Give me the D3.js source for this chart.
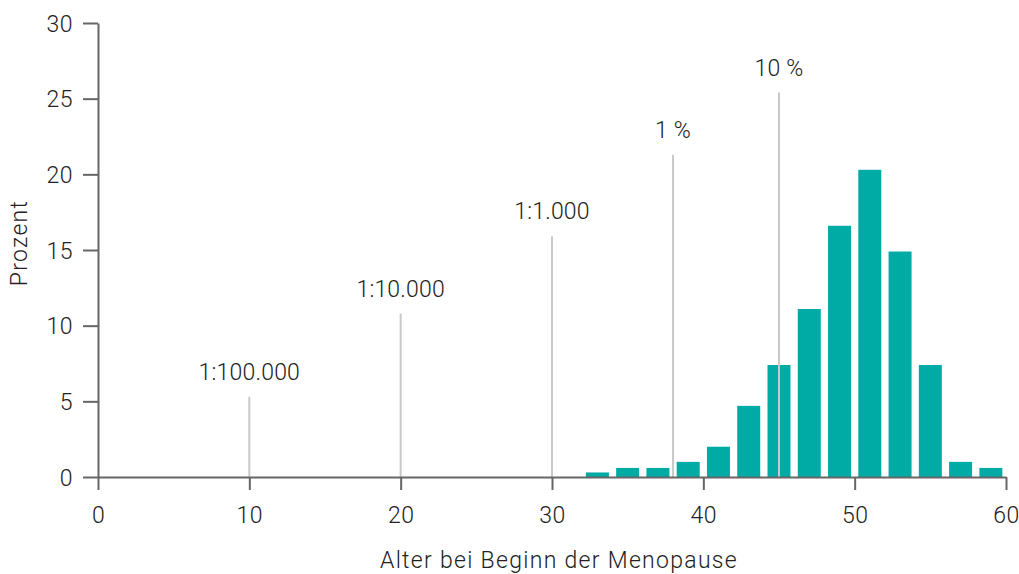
<!DOCTYPE html>
<html>
<head>
<meta charset="utf-8">
<script src="https://cdn.jsdelivr.net/npm/d3@7"></script>
<style>
  body { margin: 0; background: #fff; }
  text { font-family: Roboto, "Noto Sans", sans-serif; fill: #222; }
</style>
</head>
<body>
<div class="chart"></div>
<script>
// age (bar centre) and share of women in percent
const ages = [33, 35, 37, 39, 41, 43, 45, 47, 49, 51, 53, 55, 57, 59];
const percent = [0.3, 0.6, 0.6, 1.0, 2.0, 4.7, 7.4, 11.1, 16.6, 20.3, 14.9, 7.4, 1.0, 0.6];

// risk markers
const markerAges = [10, 20, 30, 38, 45];
const markerHeights = [5.3, 10.8, 15.9, 21.3, 25.4];
const markerLabels = ["1:100.000", "1:10.000", "1:1.000", "1 %", "10 %"];

const xTicks = [0, 10, 20, 30, 40, 50, 60];
const yTicks = [0, 5, 10, 15, 20, 25, 30];

const W = 1019, H = 574;
const margin = { top: 23, right: 13, bottom: 97, left: 98 };
const width = W - margin.left - margin.right;
const height = H - margin.top - margin.bottom;

const svg = d3.select(".chart").append("svg")
  .attr("width", W)
  .attr("height", H);

const g = svg.append("g")
  .attr("transform", `translate(${margin.left},${margin.top})`);

const x = d3.scaleLinear().domain([0, 60]).range([0, width]);
const y = d3.scaleLinear().domain([0, 30]).range([height, 0]);

const barW = x(1.52) - x(0);

g.selectAll(".bar")
  .data(ages)
  .join("rect")
  .attr("class", "bar")
  .attr("x", d => x(d) - barW / 2)
  .attr("width", barW)
  .attr("y", (d, i) => y(percent[i]))
  .attr("height", (d, i) => y(0) - y(percent[i]))
  .attr("fill", "#00aba6");

// marker lines
g.selectAll(".marker")
  .data(markerAges)
  .join("line")
  .attr("class", "marker")
  .attr("x1", d => x(d))
  .attr("x2", d => x(d))
  .attr("y1", y(0))
  .attr("y2", (d, i) => y(markerHeights[i]))
  .attr("stroke", "#c8c8c8")
  .attr("stroke-width", 2);

g.selectAll(".marker-label")
  .data(markerAges)
  .join("text")
  .attr("class", "marker-label")
  .attr("x", d => x(d))
  .attr("y", (d, i) => y(markerHeights[i]) - 17)
  .attr("text-anchor", "middle")
  .style("font-size", "23px")
  .style("font-weight", 300)
  .style("letter-spacing", "0.2px")
  .text((d, i) => markerLabels[i]);

// axes
const xAxis = g.append("g")
  .attr("transform", `translate(0,${height})`)
  .call(d3.axisBottom(x).tickValues(xTicks).tickSize(13).tickSizeOuter(0).tickPadding(17));

const yAxis = g.append("g")
  .call(d3.axisLeft(y).tickValues(yTicks).tickSize(15).tickSizeOuter(0).tickPadding(10));

[xAxis, yAxis].forEach(a => {
  a.select(".domain").attr("stroke", "#666").attr("stroke-width", 2);
  a.selectAll(".tick line").attr("stroke", "#666").attr("stroke-width", 2);
  a.selectAll(".tick text")
    .style("font-size", "23px")
    .style("font-weight", 300)
    .style("font-family", "Roboto, sans-serif")
    .style("letter-spacing", "0.5px")
    .attr("fill", "#222");
});

yAxis.selectAll(".tick text").attr("dy", "0.36em");

svg.append("text")
  .attr("x", margin.left + x(30) + 7)
  .attr("y", 568)
  .attr("text-anchor", "middle")
  .style("font-size", "23px")
  .style("font-weight", 300)
  .style("letter-spacing", "1.3px")
  .text("Alter bei Beginn der Menopause");

svg.append("text")
  .attr("transform", "translate(27,243) rotate(-90)")
  .attr("text-anchor", "middle")
  .style("font-size", "23px")
  .style("font-weight", 300)
  .style("letter-spacing", "1.3px")
  .text("Prozent");
</script>
</body>
</html>
